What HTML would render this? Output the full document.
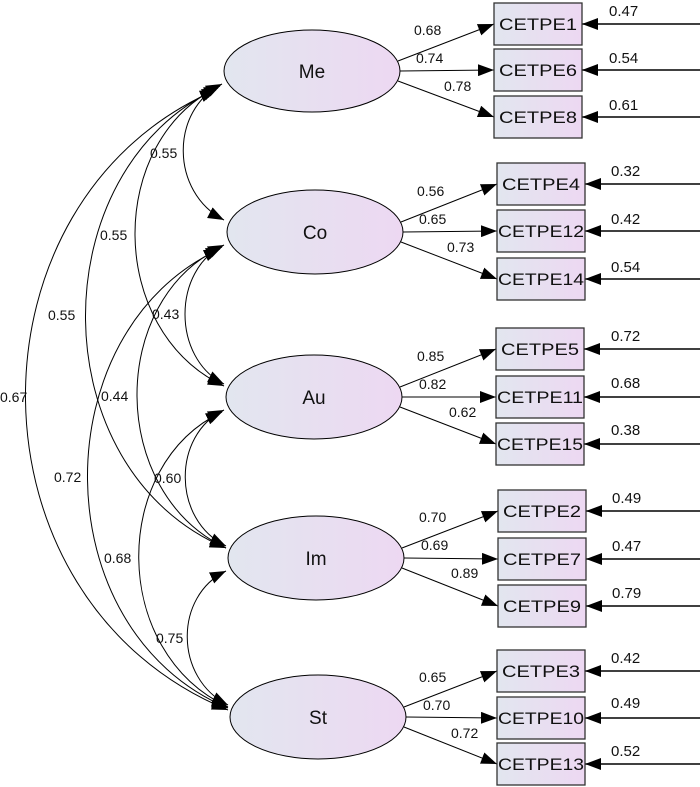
<!DOCTYPE html>
<html><head><meta charset="utf-8"><style>
html,body{margin:0;padding:0;background:#fff}
svg{display:block}
text{font-family:"Liberation Sans",Arial,sans-serif;fill:#111}
</style></head><body>
<svg width="700" height="787" viewBox="0 0 700 787" xmlns="http://www.w3.org/2000/svg">
<defs>
<linearGradient id="g" x1="0" x2="1" y1="0" y2="0"><stop offset="0" stop-color="#e2e6ef"/><stop offset="1" stop-color="#edd8f2"/></linearGradient>
<marker id="a" markerWidth="16" markerHeight="12" refX="16" refY="6" orient="auto" markerUnits="userSpaceOnUse"><path d="M0,0 L16,6 L0,12 z" fill="#000"/></marker>
<marker id="s" markerWidth="16" markerHeight="12" refX="0" refY="6" orient="auto" markerUnits="userSpaceOnUse"><path d="M16,0 L0,6 L16,12 z" fill="#000"/></marker>
</defs>
<g fill="none" stroke="#000" stroke-width="1" marker-start="url(#s)" marker-end="url(#a)">
<path d="M222,84 C170,110 170,192 224,220"/>
<path d="M224,245 C172,270 172,358 224,384"/>
<path d="M224,410 C172,435 172,520 226,546"/>
<path d="M226,571 C174,596 174,678 228,705"/>
<path d="M220,86 C106,140 106,330 224,386"/>
<path d="M222,247 C108,300 108,492 226,548"/>
<path d="M222,412 C110,465 110,652 228,707"/>
<path d="M218,88 C40,170 40,470 226,548"/>
<path d="M220,249 C42,330 42,630 228,708"/>
<path d="M216,90 C-40,200 -40,600 228,710"/>
</g>
<text x="150" y="158" font-size="14">0.55</text>
<text x="100" y="240" font-size="14">0.55</text>
<text x="48" y="320" font-size="14">0.55</text>
<text x="0" y="402" font-size="14">0.67</text>
<text x="152" y="319" font-size="14">0.43</text>
<text x="101" y="401" font-size="14">0.44</text>
<text x="54" y="482" font-size="14">0.72</text>
<text x="154" y="483" font-size="14">0.60</text>
<text x="104" y="563" font-size="14">0.68</text>
<text x="156" y="643" font-size="14">0.75</text>

<g stroke="#000" stroke-width="1" fill="url(#g)">
<ellipse cx="312" cy="71" rx="88" ry="41"/>
<ellipse cx="315" cy="232" rx="88" ry="42"/>
<ellipse cx="314" cy="397" rx="88" ry="42"/>
<ellipse cx="316" cy="558" rx="88" ry="42"/>
<ellipse cx="318" cy="717" rx="88" ry="42"/>
</g>
<g font-size="19" text-anchor="middle">
<text x="312" y="78">Me</text>
<text x="315" y="239">Co</text>
<text x="314" y="404">Au</text>
<text x="316" y="565">Im</text>
<text x="318" y="724">St</text>
</g>

<g stroke="#000" stroke-width="1" fill="none" marker-end="url(#a)">
<path d="M398,61 L494,24"/><path d="M400,71 L494,70"/><path d="M398,81 L494,117"/>
<path d="M401,222 L497,184"/><path d="M403,232 L497,231"/><path d="M401,242 L497,279"/>
<path d="M400,387 L496,349"/><path d="M402,397 L496,397"/><path d="M400,407 L496,444"/>
<path d="M402,548 L498,511"/><path d="M404,558 L498,559"/><path d="M402,568 L498,606"/>
<path d="M404,707 L497,671"/><path d="M406,717 L497,718"/><path d="M404,727 L497,764"/>
</g>
<g stroke="#000" stroke-width="1.5" fill="none" marker-end="url(#a)">
<path d="M700,24 L582,24"/><path d="M700,70 L582,70"/><path d="M700,117 L582,117"/>
<path d="M700,184 L585,184"/><path d="M700,231 L585,231"/><path d="M700,279 L585,279"/>
<path d="M700,349 L584,349"/><path d="M700,397 L584,397"/><path d="M700,444 L584,444"/>
<path d="M700,511 L586,511"/><path d="M700,559 L586,559"/><path d="M700,606 L586,606"/>
<path d="M700,671 L585,671"/><path d="M700,718 L585,718"/><path d="M700,764 L585,764"/>
</g>

<g stroke="#333" stroke-width="1.3" fill="url(#g)">
<rect x="494" y="3" width="88" height="42"/><rect x="494" y="49" width="88" height="42"/><rect x="494" y="96" width="88" height="42"/>
<rect x="497" y="163" width="88" height="42"/><rect x="497" y="210" width="88" height="42"/><rect x="497" y="258" width="88" height="42"/>
<rect x="496" y="328" width="88" height="42"/><rect x="496" y="376" width="88" height="42"/><rect x="496" y="423" width="88" height="42"/>
<rect x="498" y="490" width="88" height="42"/><rect x="498" y="538" width="88" height="42"/><rect x="498" y="585" width="88" height="42"/>
<rect x="497" y="650" width="88" height="42"/><rect x="497" y="697" width="88" height="42"/><rect x="497" y="743" width="88" height="42"/>
</g>
<g font-size="17" text-anchor="middle" lengthAdjust="spacingAndGlyphs">
<text x="538" y="30" textLength="78" lengthAdjust="spacingAndGlyphs">CETPE1</text><text x="538" y="76" textLength="78" lengthAdjust="spacingAndGlyphs">CETPE6</text><text x="538" y="123" textLength="78" lengthAdjust="spacingAndGlyphs">CETPE8</text>
<text x="541" y="190" textLength="78" lengthAdjust="spacingAndGlyphs">CETPE4</text><text x="541" y="237" textLength="86" lengthAdjust="spacingAndGlyphs">CETPE12</text><text x="541" y="285" textLength="86" lengthAdjust="spacingAndGlyphs">CETPE14</text>
<text x="540" y="355" textLength="78" lengthAdjust="spacingAndGlyphs">CETPE5</text><text x="540" y="403" textLength="86" lengthAdjust="spacingAndGlyphs">CETPE11</text><text x="540" y="450" textLength="86" lengthAdjust="spacingAndGlyphs">CETPE15</text>
<text x="542" y="517" textLength="78" lengthAdjust="spacingAndGlyphs">CETPE2</text><text x="542" y="565" textLength="78" lengthAdjust="spacingAndGlyphs">CETPE7</text><text x="542" y="612" textLength="78" lengthAdjust="spacingAndGlyphs">CETPE9</text>
<text x="541" y="677" textLength="78" lengthAdjust="spacingAndGlyphs">CETPE3</text><text x="541" y="724" textLength="86" lengthAdjust="spacingAndGlyphs">CETPE10</text><text x="541" y="770" textLength="86" lengthAdjust="spacingAndGlyphs">CETPE13</text>
</g>

<g font-size="14">
<text x="414" y="35">0.68</text><text x="416" y="63">0.74</text><text x="444" y="91">0.78</text>
<text x="417" y="196">0.56</text><text x="419" y="224">0.65</text><text x="447" y="252">0.73</text>
<text x="417" y="361">0.85</text><text x="419" y="389">0.82</text><text x="449" y="417">0.62</text>
<text x="419" y="522">0.70</text><text x="421" y="550">0.69</text><text x="451" y="578">0.89</text>
<text x="419" y="682">0.65</text><text x="423" y="710">0.70</text><text x="451" y="738">0.72</text>
</g>
<g font-size="15">
<text x="609" y="16">0.47</text><text x="609" y="63">0.54</text><text x="609" y="110">0.61</text>
<text x="611" y="176">0.32</text><text x="611" y="224">0.42</text><text x="611" y="272">0.54</text>
<text x="611" y="341">0.72</text><text x="611" y="388">0.68</text><text x="611" y="435">0.38</text>
<text x="612" y="503">0.49</text><text x="612" y="551">0.47</text><text x="612" y="598">0.79</text>
<text x="611" y="663">0.42</text><text x="611" y="708">0.49</text><text x="611" y="756">0.52</text>
</g>
</svg>
</body></html>
